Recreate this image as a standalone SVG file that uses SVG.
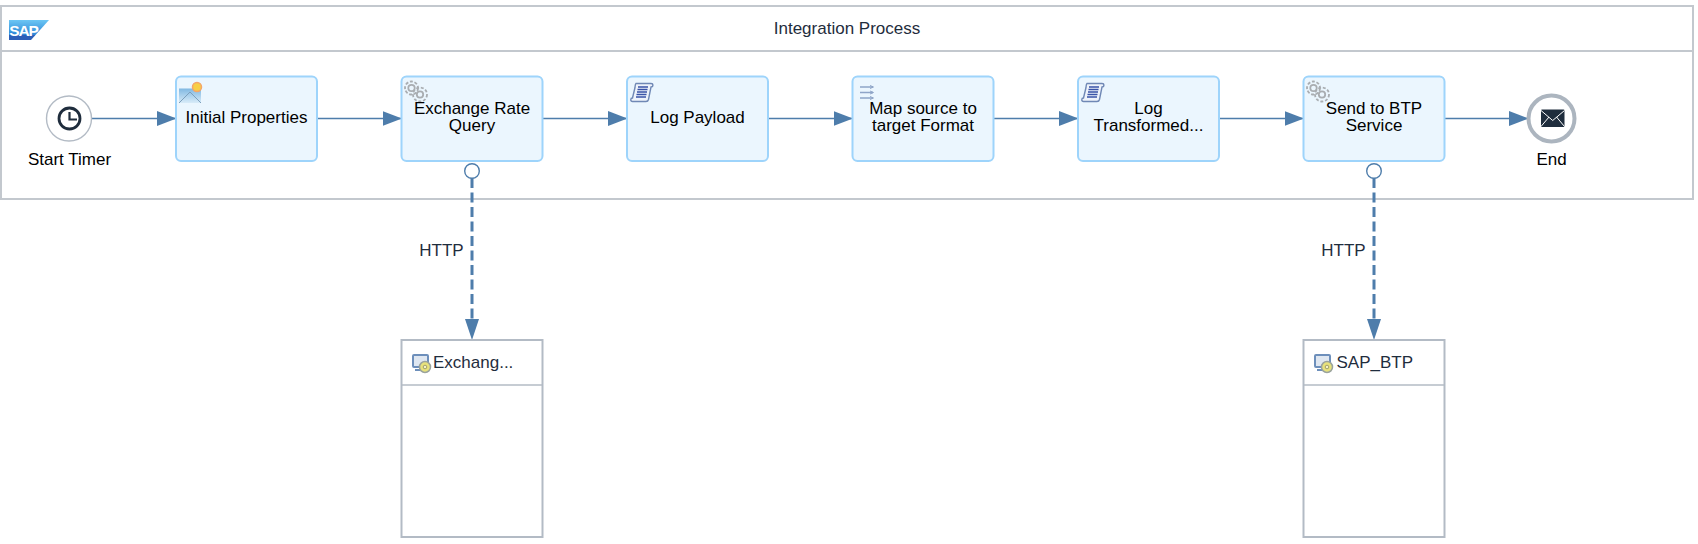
<svg xmlns="http://www.w3.org/2000/svg" width="1698" height="544" viewBox="0 0 1698 544">
<style>
text{font-family:"Liberation Sans",Arial,sans-serif;font-size:17px;fill:#000;text-anchor:middle}
.dark{fill:#1f2d3d}
.pool{fill:#fff;stroke:#c3c8ce;stroke-width:2}
.step{fill:#ebf6fe;stroke:#9ed4fb;stroke-width:2}
.flow{fill:none;stroke:#4e7dab;stroke-width:1.6}
.msg{fill:none;stroke:#4e7dab;stroke-width:3;stroke-dasharray:10 4.500}
.part{fill:#fff;stroke:#b3bbc5;stroke-width:2}
.gear{fill:none;stroke:#a9adb1;stroke-width:1.800}
.scroll{fill:#eef3fb;stroke:#6f88b5;stroke-width:1.400}
.ln{stroke:#3953a8;stroke-width:1.500}
</style>
<defs>
<marker id="arr" markerUnits="userSpaceOnUse" markerWidth="20" markerHeight="16" refX="19" refY="7.5" orient="auto"><path d="M0 0L19.500 7.500L0 15Z" fill="#4e7dab"/></marker>
<linearGradient id="sapg" x1="0" y1="0" x2="0" y2="1"><stop offset="0" stop-color="#6cc6f4"/><stop offset="0.75" stop-color="#2c86d6"/><stop offset="0.76" stop-color="#2d5fb8"/><stop offset="1" stop-color="#2d5fb8"/></linearGradient>
<linearGradient id="mailg" x1="0" y1="0" x2="0" y2="1"><stop offset="0" stop-color="#80b8e2"/><stop offset="1" stop-color="#d8ebf8"/></linearGradient>
<g id="gearIcon"><circle cx="0" cy="0" r="6.500" class="gear" stroke-dasharray="3 1.700"/><circle cx="0" cy="0" r="3.200" class="gear"/><circle cx="8.500" cy="6.500" r="7" fill="#ebf6fe" class="gear" stroke-dasharray="3 1.800"/><circle cx="8.500" cy="6.500" r="3.200" class="gear"/></g>
<g id="scrollIcon"><path class="scroll" d="M6 1H21C23.500 1 23.500 4.500 21 4.500L18.500 17C18 19 17 19 16 19H2.500C.2 19 .2 15.500 2.500 15.500L5 5C5.300 3 5 2 6 1Z"/><path d="M8 4.500H18M7.500 7H17.500M7 9.500H17M6.500 12H16.500M6 14.500H16" class="ln"/></g>
<g id="sysIcon"><rect x="1" y="1" width="15" height="12" rx="1" fill="#dfe7f1" stroke="#6d8fbb" stroke-width="2"/><path d="M3 16H13" stroke="#6d8fbb" stroke-width="2"/><circle cx="13" cy="13" r="5.500" fill="#e8e27c" stroke="#9aa39e" stroke-width="1.500"/><circle cx="13" cy="13" r="1.800" fill="#f5f3c8" stroke="#8e8e60" stroke-width=".8"/></g>
</defs>

<g id="integration-process">
<rect class="pool" x="1" y="6" width="1692" height="193"/>
<path d="M1 51H1693" stroke="#c3c8ce" stroke-width="2" fill="none"/>
<g id="sap-logo"><path d="M9 20H49L31 40H9Z" fill="url(#sapg)"/><text x="23.500" y="36" style="font-size:15.500px;font-weight:700;fill:#fff;letter-spacing:-1.200px">SAP</text></g>
<text class="dark" x="847" y="33.500">Integration Process</text>
</g>

<g id="connectors">
<path class="flow" d="M92 118.500H176" marker-end="url(#arr)"/>
<path class="flow" d="M317.500 118.500H401.500" marker-end="url(#arr)"/>
<path class="flow" d="M543 118.500H627" marker-end="url(#arr)"/>
<path class="flow" d="M768.500 118.500H852.500" marker-end="url(#arr)"/>
<path class="flow" d="M994 118.500H1078" marker-end="url(#arr)"/>
<path class="flow" d="M1219.500 118.500H1303.500" marker-end="url(#arr)"/>
<path class="flow" d="M1445 118.500H1528" marker-end="url(#arr)"/>
<path class="msg" d="M472 178V322"/>
<path d="M465 319L472 340L479 319Z" fill="#4e7dab"/>
<path class="msg" d="M1374 178V322"/>
<path d="M1367 319L1374 340L1381 319Z" fill="#4e7dab"/>
<text class="dark" x="441.500" y="255.500">HTTP</text>
<text class="dark" x="1343.500" y="255.500">HTTP</text>
</g>

<g id="start-timer">
<circle cx="69" cy="118.500" r="22.500" fill="#fff" stroke="#b3bbc5" stroke-width="1.400"/>
<circle cx="69.500" cy="118.500" r="10.500" fill="none" stroke="#1f2d3d" stroke-width="2.800"/>
<path d="M69.500 112V119.500H77" fill="none" stroke="#1f2d3d" stroke-width="2.200"/>
<text x="69.500" y="165">Start Timer</text>
</g>

<g id="initial-properties">
<rect class="step" x="176" y="76.500" width="141" height="84.500" rx="5"/>
<path d="M179 88.500L197 88.500 201 90V103H179Z" fill="url(#mailg)"/>
<path d="M179 103L190 92 201 103" fill="none" stroke="#7d9fbc" stroke-width="1"/>
<circle cx="197" cy="87" r="4.500" fill="#f7cf46" stroke="#f3a66a" stroke-width="1.500"/>
<text x="246.500" y="123">Initial Properties</text>
</g>

<g id="exchange-rate-query">
<rect class="step" x="401.500" y="76.500" width="141" height="84.500" rx="5"/>
<use href="#gearIcon" x="411.500" y="88"/>
<text x="472" y="114">Exchange Rate</text>
<text x="472" y="131">Query</text>
</g>

<g id="log-payload">
<rect class="step" x="627" y="76.500" width="141" height="84.500" rx="5"/>
<use href="#scrollIcon" x="630" y="82.500"/>
<text x="697.500" y="123">Log Payload</text>
</g>

<g id="map-source">
<rect class="step" x="852.500" y="76.500" width="141" height="84.500" rx="5"/>
<path d="M860 87H873M860 92.500H873M860 98H873" stroke="#8fa5c8" stroke-width="1.400"/>
<path d="M870 85.500L873.500 87 870 88.500M870 91L873.500 92.500 870 94M870 96.500L873.500 98 870 99.500" fill="none" stroke="#8fa5c8" stroke-width="1"/>
<text x="923" y="114">Map source to</text>
<text x="923" y="131">target Format</text>
</g>

<g id="log-transformed">
<rect class="step" x="1078" y="76.500" width="141" height="84.500" rx="5"/>
<use href="#scrollIcon" x="1081" y="82.500"/>
<text x="1148.500" y="114">Log</text>
<text x="1148.500" y="131">Transformed...</text>
</g>

<g id="send-to-btp">
<rect class="step" x="1303.500" y="76.500" width="141" height="84.500" rx="5"/>
<use href="#gearIcon" x="1313.500" y="88"/>
<text x="1374" y="114">Send to BTP</text>
<text x="1374" y="131">Service</text>
</g>

<g id="end">
<circle cx="1551.500" cy="118.500" r="23" fill="#fff" stroke="#acb5bf" stroke-width="4"/>
<rect x="1541" y="109.500" width="23.500" height="17.500" rx="1" fill="#1f2d3d"/>
<path d="M1541 110.500L1552.700 120.500 1564.500 110.500M1541 126.500L1549 117M1564.500 126.500L1556.500 117" fill="none" stroke="#fff" stroke-width="1"/>
<text x="1551.500" y="165">End</text>
</g>

<g id="port-exchange"><circle cx="472" cy="171" r="7.300" fill="#fff" stroke="#4e7dab" stroke-width="1.400"/></g>
<g id="port-btp"><circle cx="1374" cy="171" r="7.300" fill="#fff" stroke="#4e7dab" stroke-width="1.400"/></g>

<g id="exchange-system">
<rect class="part" x="401.500" y="340" width="141" height="197"/>
<path d="M401.500 385H542.500" stroke="#b3bbc5" stroke-width="1.400"/>
<use href="#sysIcon" x="412" y="354"/>
<text class="dark" x="433" y="368" style="text-anchor:start">Exchang...</text>
</g>

<g id="sap-btp-system">
<rect class="part" x="1303.500" y="340" width="141" height="197"/>
<path d="M1303.500 385H1444.500" stroke="#b3bbc5" stroke-width="1.400"/>
<use href="#sysIcon" x="1314" y="354"/>
<text class="dark" x="1336.500" y="368" style="text-anchor:start">SAP_BTP</text>
</g>
</svg>
